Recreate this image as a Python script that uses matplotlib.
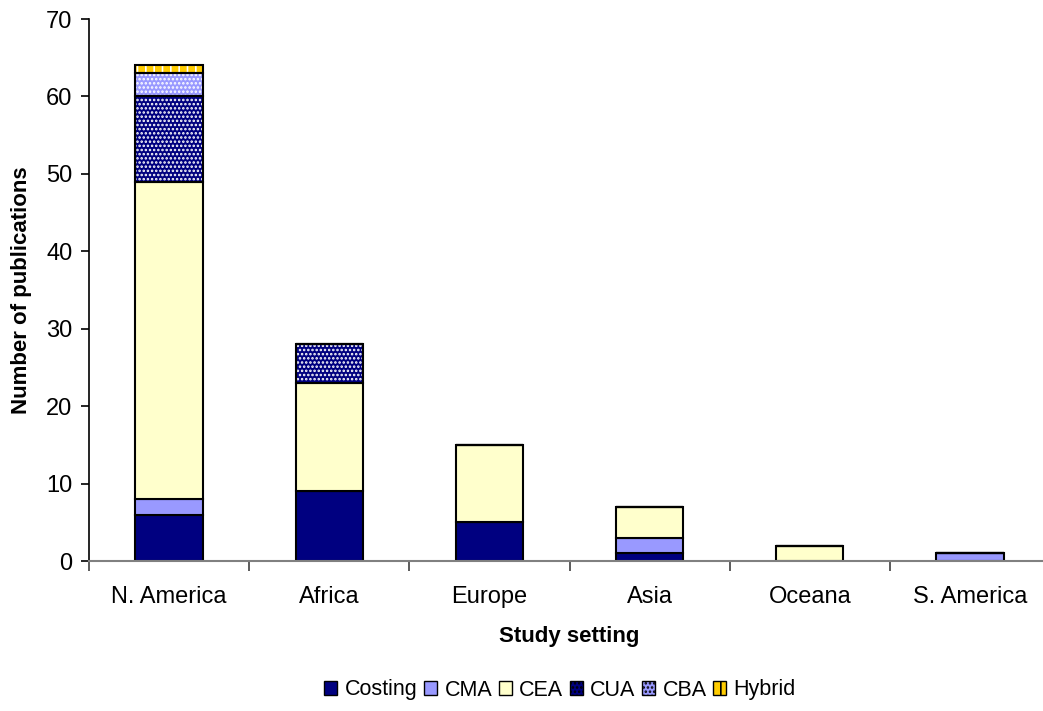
import numpy as np
import matplotlib.pyplot as plt
from matplotlib.patches import Patch

plt.rcParams['font.family'] = ['Liberation Sans', 'DejaVu Sans']
plt.rcParams['hatch.linewidth'] = 1.2

regions = ["N. America", "Africa", "Europe", "Asia", "Oceana", "S. America"]
costing = [6, 9, 5, 1, 0, 0]
cma = [2, 0, 0, 2, 0, 1]
cea = [41, 14, 10, 4, 2, 0]
cua = [11, 5, 0, 0, 0, 0]
cba = [3, 0, 0, 0, 0, 0]
hybrid = [1, 0, 0, 0, 0, 0]

series = [
    ("Costing", costing, "#000080", None),
    ("CMA", cma, "#9999FF", None),
    ("CEA", cea, "#FFFFCC", None),
    ("CUA", cua, "#000080", "...."),
    ("CBA", cba, "#9999FF", "...."),
    ("Hybrid", hybrid, "#FFCC00", "||"),
]

fig = plt.figure(figsize=(10.43, 7.11), dpi=100)
ax = fig.add_axes([89 / 1043, 1 - 561 / 711, (1050 - 89) / 1043, (561 - 19) / 711])

x = np.arange(len(regions))
w = 0.42
bottom = np.zeros(len(regions))
handles = []
for name, vals, color, hatch in series:
    vals = np.array(vals, dtype=float)
    if hatch:
        # fill + white hatch first, black outline on top
        ax.bar(x, vals, w, bottom=bottom, color=color, edgecolor="white",
               hatch=hatch, linewidth=0, zorder=2)
        ax.bar(x, vals, w, bottom=bottom, fill=False, edgecolor="black",
               linewidth=1.5, zorder=3)
    else:
        ax.bar(x, vals, w, bottom=bottom, color=color, edgecolor="black",
               linewidth=1.5, zorder=2)
    bottom += vals
    handles.append(Patch(facecolor=color, edgecolor="black", hatch=hatch,
                         linewidth=1.0, label=name))

ax.set_xlim(-0.5, len(regions) - 0.5)
ax.set_ylim(0, 70)
ax.set_yticks(range(0, 71, 10))
ax.set_xticks(x)
ax.set_xticklabels(regions)
ax.set_xticks(np.arange(-0.5, len(regions)), minor=True)
ax.tick_params(axis="x", which="major", length=0, pad=18, labelsize=17)
ax.tick_params(axis="x", which="minor", length=7, width=1.2, color="#404040")
ax.tick_params(axis="y", length=6, width=1.2, labelsize=17, pad=6)

for s in ("top", "right"):
    ax.spines[s].set_visible(False)
ax.spines["bottom"].set_color("#808080")
ax.spines["bottom"].set_linewidth(1.5)
ax.spines["left"].set_linewidth(1.2)

ax.set_ylabel("Number of publications", fontsize=16, fontweight="bold", labelpad=10)
ax.set_xlabel("Study setting", fontsize=16, fontweight="bold", labelpad=13)

fig.legend(handles=handles, loc="center", bbox_to_anchor=(560 / 1043, 1 - 690 / 711),
           ncol=6, frameon=False, fontsize=15.5, handlelength=0.6, handleheight=0.6,
           handletextpad=0.35, columnspacing=0.3)

fig.savefig("out.png", dpi=100)
